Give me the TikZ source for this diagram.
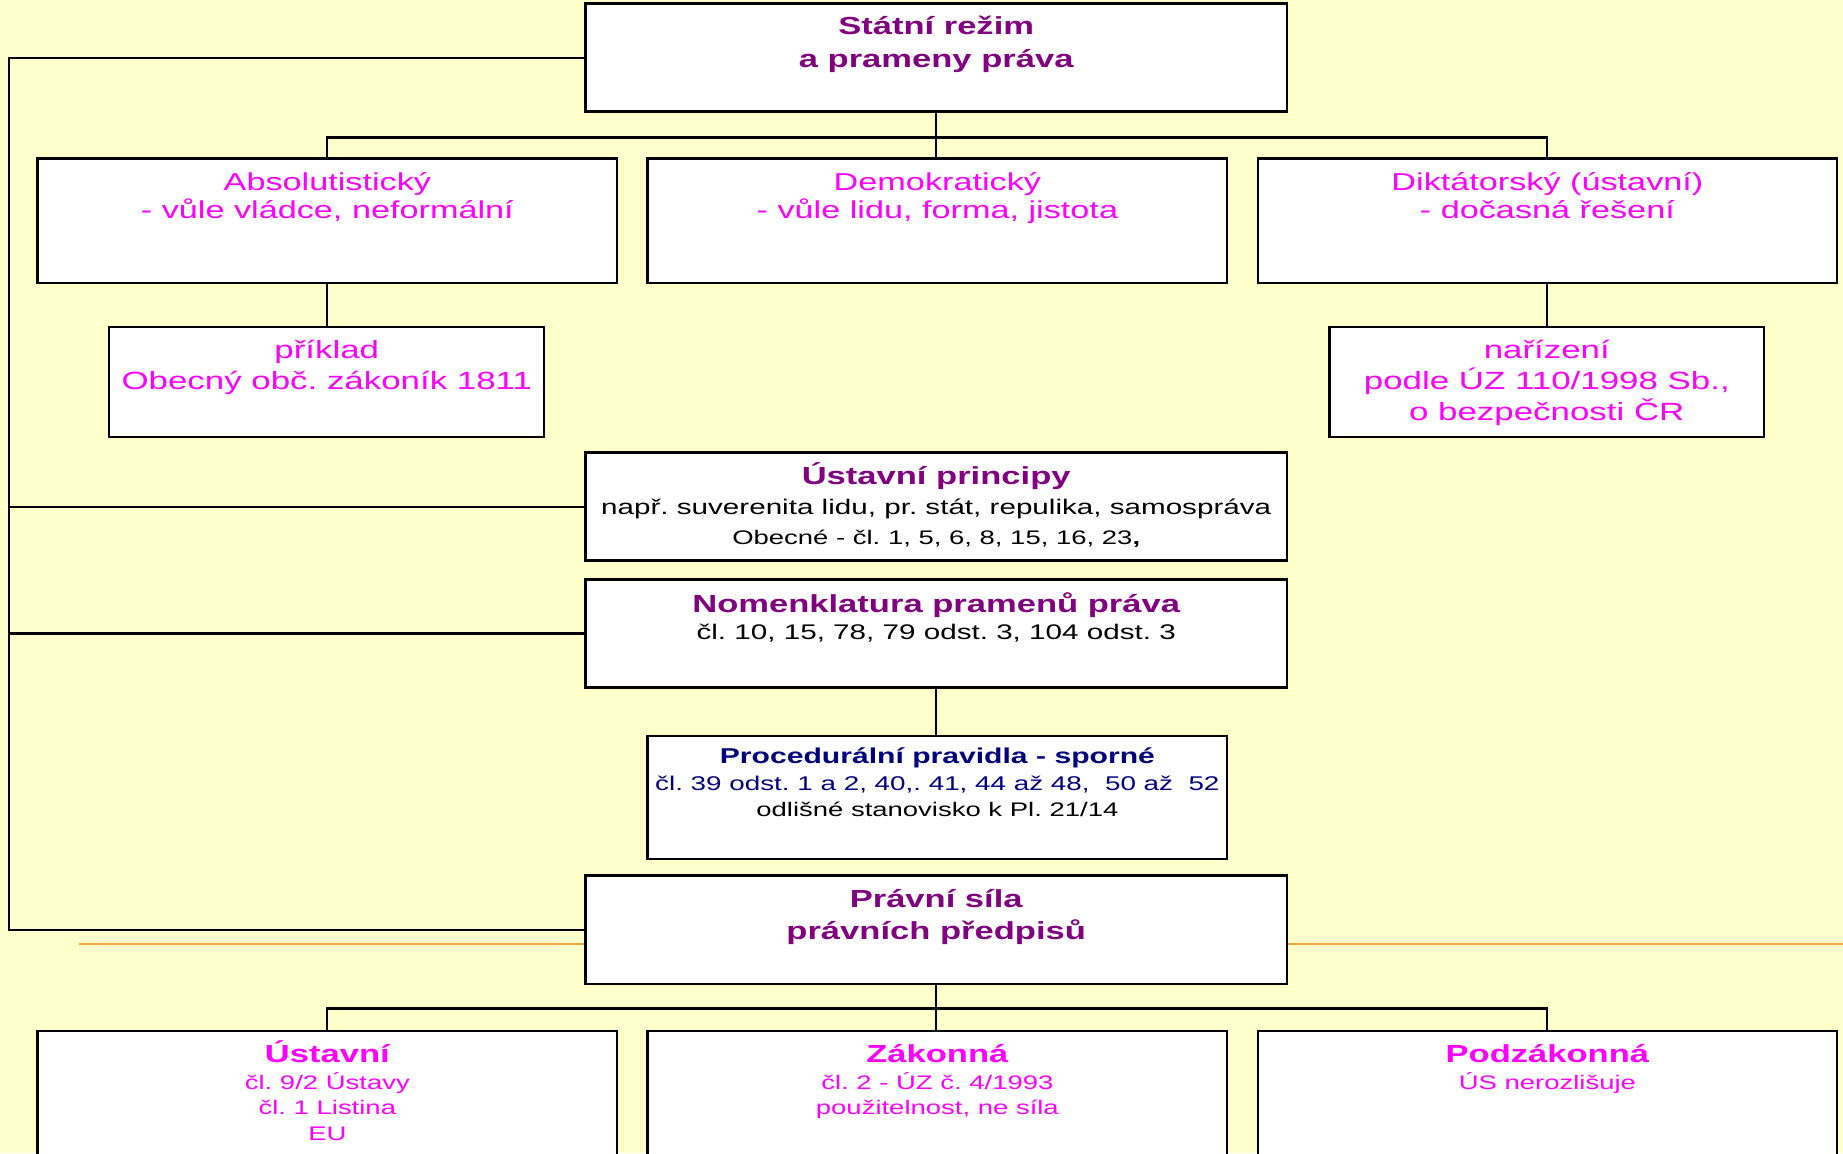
\documentclass[tikz,border=0pt]{standalone}
\usepackage{fontspec}
\setmainfont{Liberation Sans}[FakeStretch=1.4]
\definecolor{bgc}{HTML}{FFFFCC}
\definecolor{ttl}{HTML}{800080}
\definecolor{mag}{HTML}{FF00FF}
\definecolor{nav}{HTML}{000080}
\definecolor{orl}{HTML}{F2A93B}
\newcommand\szBig{\fontsize{21}{25}\selectfont}
\newcommand\szMid{\fontsize{18}{22}\selectfont}
\newcommand\szSml{\fontsize{16.7}{20}\selectfont}
\newcommand\szSub{\fontsize{21.2}{25}\selectfont}
\newcommand\szRow{\fontsize{20.8}{24}\selectfont}
\frenchspacing
\begin{document}
\begin{tikzpicture}[x=1pt,y=-1pt,
  box/.style={draw=black,line width=2pt,fill=white,inner sep=0pt},
  wide/.style={box,minimum width=597pt,minimum height=92pt},
  med/.style={box,minimum width=493pt,minimum height=106pt},
  sml/.style={box,minimum width=370pt,minimum height=94pt},
  conn/.style={draw=black,line width=1.8pt},
  txt/.style={anchor=base,inner sep=0pt},
  hT/.style={txt,text=ttl,font=\szBig\bfseries},
  hR/.style={txt,text=mag,font=\szRow},
  hS/.style={txt,text=mag,font=\szSub},
  bk/.style={txt,text=black,font=\szMid},
  bks/.style={txt,text=black,font=\szSml}]
\useasboundingbox (0,0) rectangle (1568,981);
\fill[bgc] (0,0) rectangle (1568,981);

% coordinates for connector bends
\coordinate (bus1) at (796.5,117);
\coordinate (bus2) at (796.5,858);
\coordinate (lt) at (8,49);
\coordinate (lb) at (8,791);
\coordinate (o1) at (67,803);
\coordinate (o2) at (1568,803);

% boxes
\node[wide] (top) at (796.5,49) {};
\node[med] (abs) at (278.5,188) {};
\node[med] (dem) at (797.5,188) {};
\node[med] (dik) at (1316.5,188) {};
\node[sml] (prik) at (278,325) {};
\node[sml] (nar) at (1316,325) {};
\node[wide] (ustp) at (796.5,431) {};
\node[wide] (nom) at (796.5,539) {};
\node[med,minimum height=105pt] (proc) at (797.5,678.5) {};
\node[wide] (prav) at (796.5,791) {};
\node[med,minimum height=150pt] (b1) at (278.5,952) {};
\node[med,minimum height=150pt] (b2) at (797.5,952) {};
\node[med,minimum height=150pt] (b3) at (1316.5,952) {};

% connectors
\draw[conn] (top.south) -- (bus1);
\draw[conn] (abs.north) |- (bus1) -| (dik.north);
\draw[conn] (bus1) -- (bus1 |- dem.north);
\draw[conn] (abs.south) -- (abs.south |- prik.north);
\draw[conn] (dik.south) -- (dik.south |- nar.north);
\draw[conn] (nom.south) -- (nom.south |- proc.north);
\draw[conn] (prav.south) -- (bus2);
\draw[conn] (b1.north) |- (bus2) -| (b3.north);
\draw[conn] (bus2) -- (bus2 |- b2.north);
\draw[conn] (top.west) -- (lt) -- (lb) -- (prav.west);
\draw[conn] (ustp.west) -- (ustp.west -| lt);
\draw[conn] (nom.west) -- (nom.west -| lt);
\draw[orl,line width=1.8pt] (o1) -- (o1 -| prav.west);
\draw[orl,line width=1.8pt] (o2 -| prav.east) -- (o2);

% texts
\node[hT] (t1) at (796.5,29.5) {Státní režim};
\node[hT] (t2) at (796.5,57.6) {a prameny práva};

\node[hR] (a1) at (278.5,162.2) {Absolutistický};
\node[hR] (a2) at (278.5,186) {- vůle vládce, neformální};
\node[hR] (d1) at (797.5,162.2) {Demokratický};
\node[hR] (d2) at (797.5,186) {- vůle lidu, forma, jistota};
\node[hR] (k1) at (1316.5,162.2) {Diktátorský (ústavní)};
\node[hR] (k2) at (1316.5,186) {- dočasná řešení};

\node[hS] (p1) at (278,305) {příklad};
\node[hS] (p2) at (278,331.5) {Obecný obč. zákoník 1811};
\node[hS] (n1) at (1316,305) {nařízení};
\node[hS] (n2) at (1316,331.5) {podle ÚZ 110/1998 Sb.,};
\node[hS] (n3) at (1316,358) {o bezpečnosti ČR};

\node[hT] (u1) at (796.5,412) {Ústavní principy};
\node[bk] (u2) at (796.5,437.5) {např. suverenita lidu, pr. stát, repulika, samospráva};
\node[bks] (u3) at (796.5,463) {Obecné - čl. 1, 5, 6, 8, 15, 16, 23\textbf{,}};

\node[hT] (m1) at (796.5,521) {Nomenklatura pramenů práva};
\node[bk] (m2) at (796.5,544.5) {čl. 10, 15, 78, 79 odst. 3, 104 odst. 3};

\node[txt,text=nav,font=\fontsize{18.3}{22}\selectfont\bfseries] (r1) at (797.5,649.5) {Procedurální pravidla - sporné};
\node[txt,text=nav,font=\fontsize{16.9}{21}\selectfont] (r2) at (797.5,672.5) {čl. 39 odst. 1 a 2, 40,. 41, 44 až 48,\ \ 50 až\ \ 52};
\node[bks] (r3) at (797.5,694.5) {odlišné stanovisko k Pl. 21/14};

\node[hT] (s1) at (796.5,772) {Právní síla};
\node[hT] (s2) at (796.5,799.5) {právních předpisů};

\node[txt,text=mag,font=\szBig\bfseries] (x1) at (278.5,904) {Ústavní};
\node[txt,text=mag,font=\szSml] (x2) at (278.5,926.5) {čl. 9/2 Ústavy};
\node[txt,text=mag,font=\szSml] (x3) at (278.5,948.5) {čl. 1 Listina};
\node[txt,text=mag,font=\szSml] (x4) at (278.5,970.5) {EU};
\node[txt,text=mag,font=\szBig\bfseries] (y1) at (797.5,904) {Zákonná};
\node[txt,text=mag,font=\szSml] (y2) at (797.5,926.5) {čl. 2 - ÚZ č. 4/1993};
\node[txt,text=mag,font=\szSml] (y3) at (797.5,948.5) {použitelnost, ne síla};
\node[txt,text=mag,font=\szBig\bfseries] (z1) at (1316.5,904) {Podzákonná};
\node[txt,text=mag,font=\szSml] (z2) at (1316.5,926.5) {ÚS nerozlišuje};
\end{tikzpicture}
\end{document}
